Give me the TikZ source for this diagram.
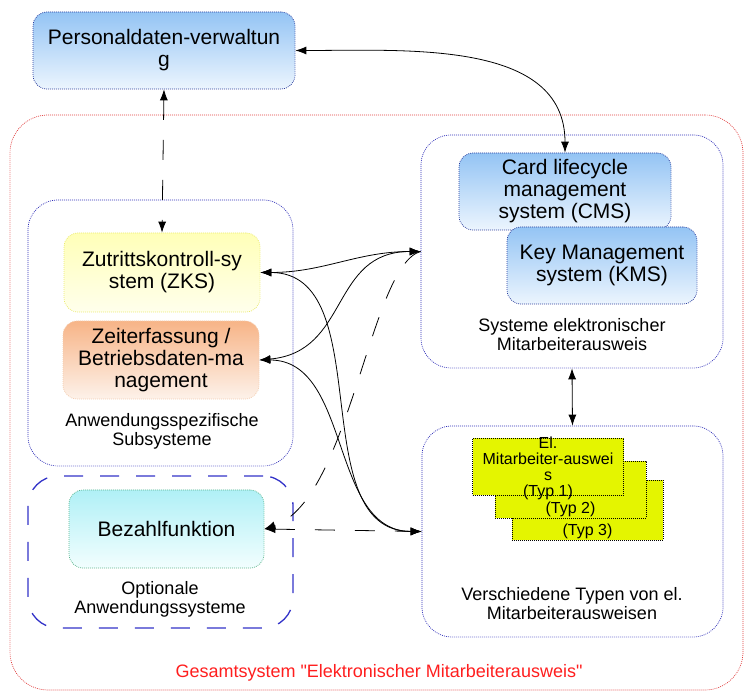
\documentclass[tikz,border=0pt]{standalone}
\usepackage{fontspec}
\setmainfont{Liberation Sans}
\newfontfamily\straightfont{Liberation Sans}
\usetikzlibrary{arrows.meta}

\definecolor{groupblue}{HTML}{2E2EB8}
\definecolor{groupred}{HTML}{E03C3C}
\definecolor{optblue}{HTML}{3232C8}
\definecolor{titlered}{HTML}{FF1E1E}
\definecolor{skyedge}{HTML}{2A3C9C}
\definecolor{skytop}{HTML}{94C4F4}
\definecolor{skybot}{HTML}{ECF5FE}
\definecolor{zkstop}{HTML}{FFFFB8}
\definecolor{zksbot}{HTML}{FFFFEC}
\definecolor{zksedge}{HTML}{EAEA70}
\definecolor{zeittop}{HTML}{F7B487}
\definecolor{zeitbot}{HTML}{FDF2EA}
\definecolor{zeitedge}{HTML}{F3CCAE}
\definecolor{beztop}{HTML}{B0F0F6}
\definecolor{bezbot}{HTML}{F2FEFE}
\definecolor{bezedge}{HTML}{5CB48C}
\definecolor{cardfill}{HTML}{E4F500}

\tikzset{
  fine/.style={dash pattern=on 0.9pt off 1.1pt, line width=0.7pt},
  unitbox/.style={fine, rounded corners=14pt, align=center, inner sep=2pt,
    font=\fontsize{21}{22}\selectfont},
  skybox/.style={unitbox, draw=skyedge, top color=skytop, bottom color=skybot},
  group/.style={fine, draw=groupblue, rounded corners=30pt},
  grouplabel/.style={align=center, font=\fontsize{18}{19}\selectfont},
  card/.style={fine, draw=black, fill=cardfill, minimum width=151pt,
    minimum height=57pt, inner sep=0pt},
  cardtext/.style={align=center, inner sep=1pt, font=\fontsize{16}{16}\selectfont},
  link/.style={line width=0.8pt, <->},
  longdash/.style={dash pattern=on 20pt off 20pt},
}

\begin{document}
\begin{tikzpicture}[x=1pt, y=1pt, >={Latex[length=11pt,width=8pt]}]
\useasboundingbox (0,0) rectangle (753,693);

% groups
\node (ges) [group, draw=groupred, rounded corners=38pt, minimum width=733pt, minimum height=575pt] at (376.5,290.5) {};
\node (anw) [group, minimum width=265pt, minimum height=266pt] at (160.5,360) {};
\node (opt) [group, draw=optblue, line width=1.3pt, dash pattern=on 19pt off 17pt, minimum width=265pt, minimum height=152pt] at (160.5,141) {};
\node (sys) [group, minimum width=302pt, minimum height=233pt] at (572,441.5) {};
\node (ver) [group, minimum width=301pt, minimum height=211pt] at (572.5,161.5) {};

\node (anwlabel) [grouplabel] at (162,262) {Anwendungsspezifische\\Subsysteme};
\node (optlabel) [grouplabel] at (160,94) {Optionale\\Anwendungssysteme};
\node (syslabel) [grouplabel] at (572,358) {Systeme elektronischer\\Mitarbeiterausweis};
\node (verlabel) [grouplabel] at (572,89) {Verschiedene Typen von el.\\Mitarbeiterausweisen};
\node (geslabel) [grouplabel, text=titlered] at (379,20) {\straightfont Gesamtsystem "Elektronischer Mitarbeiterausweis"};

% systems
\node (pers) [skybox, minimum width=262pt, minimum height=77pt] at (164,642.5) {Personaldaten-verwaltun\\g};
\node (zks) [unitbox, draw=zksedge, top color=zkstop, bottom color=zksbot, minimum width=196pt, minimum height=79pt] at (162,420.5) {Zutrittskontroll-sy\\stem (ZKS)};
\node (zeit) [unitbox, draw=zeitedge, top color=zeittop, bottom color=zeitbot, minimum width=196pt, minimum height=78pt] at (161,333) {Zeiterfassung /\\Betriebsdaten-ma\\nagement};
\node (bez) [unitbox, draw=bezedge, top color=beztop, bottom color=bezbot, minimum width=195pt, minimum height=78pt] at (166.5,164) {Bezahlfunktion};
\node (cms) [skybox, minimum width=212pt, minimum height=77pt] at (565,501.5) {Card lifecycle\\management\\system (CMS)};
\node (kms) [skybox, minimum width=190pt, minimum height=77pt] at (602,427.5) {Key Management\\system (KMS)};

% cards
\node (card3) [card, minimum height=60pt] at (587.5,183) {};
\node (card2) [card] at (570.5,203.5) {};
\node (card1) [card] at (548,226.5) {};
\node (typ3) [cardtext, anchor=south] at (card3.south) {(Typ 3)};
\node (typ2) [cardtext, anchor=south] at (card2.south) {(Typ 2)};
\node (typ1) [cardtext] at (548,224.5) {El.\\Mitarbeiter-auswei\\s\\(Typ 1)};

% links
\draw [link, longdash] (pers.south) -- (zks.north);
\draw [link] (pers.east) to[out=0, in=90] (cms.north);
\draw [link] (zks.east) to[out=0, in=180] (sys.west);
\draw [link] (zeit.east) to[out=5, in=180, looseness=1.2] (sys.west);
\draw [link] (zks.east) to[out=0, in=180] (ver.west);
\draw [link] (zeit.east) to[out=0, in=180] (ver.west);
\draw [link, ->, longdash] (sys.west) .. controls (370,428) and (350,193) .. (bez.east);
\draw [link, longdash] (bez.east) -- (ver.west);
\draw [link] (sys.south) -- (ver.north);
\end{tikzpicture}
\end{document}
